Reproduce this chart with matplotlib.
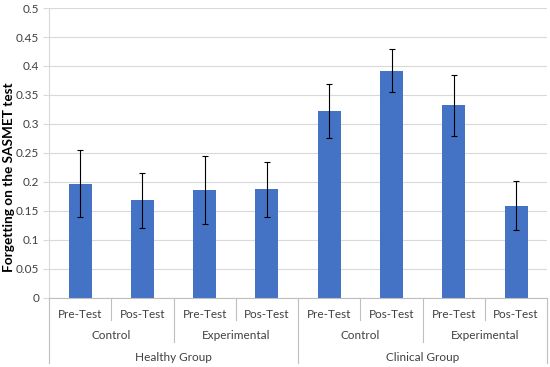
import matplotlib
matplotlib.use("Agg")
import matplotlib.pyplot as plt
from matplotlib.transforms import blended_transform_factory
from matplotlib.lines import Line2D

tests = ["Pre-Test", "Pos-Test", "Pre-Test", "Pos-Test", "Pre-Test", "Pos-Test", "Pre-Test", "Pos-Test"]
conditions = ["Control", "Experimental", "Control", "Experimental"]
groups = ["Healthy Group", "Clinical Group"]
values = [0.197, 0.168, 0.186, 0.187, 0.322, 0.392, 0.332, 0.159]
errors = [0.058, 0.047, 0.058, 0.047, 0.047, 0.037, 0.053, 0.042]
yticks = [0, 0.05, 0.1, 0.15, 0.2, 0.25, 0.3, 0.35, 0.4, 0.45, 0.5]
ylabels = ["0", "0.05", "0.1", "0.15", "0.2", "0.25", "0.3", "0.35", "0.4", "0.45", "0.5"]

plt.rcParams['font.family'] = ['Lato', 'DejaVu Sans']

fig = plt.figure(figsize=(5.5, 3.67), dpi=100)
ax = fig.add_axes([0.089, 0.189, 0.906, 0.789])

x = list(range(len(values)))
ax.bar(x, values, width=0.37, color="#4472C4", zorder=2)
ax.errorbar(x, values, yerr=errors, fmt="none", ecolor="black", elinewidth=0.8,
            capsize=2.5, capthick=0.8, zorder=3)

ax.set_xlim(-0.5, len(values) - 0.5)
ax.set_ylim(0, 0.5)
ax.set_yticks(yticks)
ax.set_yticklabels(ylabels, fontsize=8.5, color="#404040")
ax.yaxis.grid(True, color="#D9D9D9", linewidth=0.8, zorder=0)
ax.set_axisbelow(True)
ax.tick_params(axis="y", length=4, width=0.8, color="#D9D9D9", pad=3)
ax.tick_params(axis="x", length=0, pad=8)
ax.set_xticks(x)
ax.set_xticklabels(tests, fontsize=8.5, color="#404040")

for s in ["top", "right"]:
    ax.spines[s].set_visible(False)
ax.spines["left"].set_color("#D9D9D9")
ax.spines["bottom"].set_color("#BFBFBF")

fig.text(9 / 550, 1 - 177 / 367, "Forgetting on the SASMET test", rotation=90,
         ha="center", va="center", fontsize=9.8, fontweight="bold", color="black")

trans = blended_transform_factory(ax.transData, ax.transAxes)

# level 2 labels
for i, c in enumerate(conditions):
    ax.text(2 * i + 0.5, -0.131, c, transform=trans, ha="center", va="center",
            fontsize=8.5, color="#404040")
# level 3 labels
for i, g in enumerate(groups):
    ax.text(4 * i + 1.5, -0.207, g, transform=trans, ha="center", va="center",
            fontsize=8.5, color="#404040")

# separators
sep_color = "#BFBFBF"
for b in range(0, len(values) + 1):
    xb = b - 0.5
    if b % 4 == 0:
        y1 = -0.225
    elif b % 2 == 0:
        y1 = -0.153
    else:
        y1 = -0.077
    ax.add_line(Line2D([xb, xb], [0, y1], transform=trans, color=sep_color,
                       linewidth=0.8, clip_on=False))

fig.savefig("out.png", dpi=100)
